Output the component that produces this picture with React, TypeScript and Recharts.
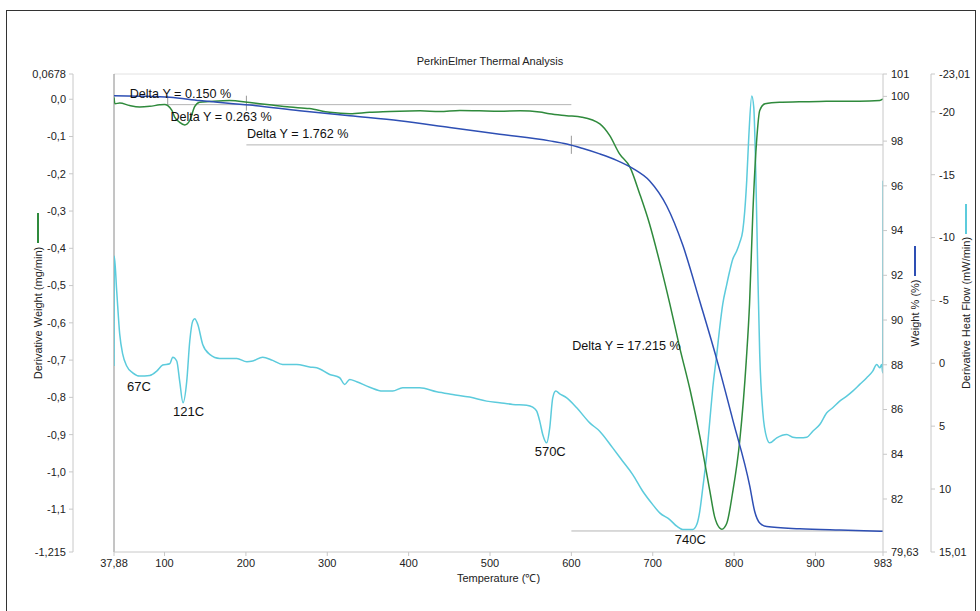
import React from "react";
import { LineChart, Line, XAxis, YAxis, ReferenceLine, ReferenceDot } from "recharts";

const FONT = '"Liberation Sans", Arial, Helvetica, sans-serif';
const GREEN = "#2f8a3c";
const BLUE = "#2e4fb4";
const CYAN = "#5ccbdc";
const AXIS = "#c8c8c8";
const TEXT = "#222";

// axis ids: l1/r1 sit next to the plot, l2/r2 outside them
const DW = "l2"; // derivative weight
const GAP = "l1"; // empty spacer between left axis and plot
const WT = "r1"; // weight %
const HF = "r2"; // derivative heat flow

// derivative weight (mg/min), green, left axis
const dwTemp = [37.88, 39, 45, 57, 69.5, 82, 94, 100, 104, 109, 112.5, 118.6, 124.8, 131, 137, 143, 155, 180, 205, 229, 254, 278, 303, 328, 352, 377, 389, 414, 438, 463, 487, 512, 537, 561, 573, 594, 613, 635, 647, 659, 672, 684, 696, 709, 721, 733, 746, 758, 770, 776, 782, 785, 791, 798, 807, 815, 819, 823, 828, 831.5, 838, 856, 880, 905, 930, 954, 979, 983];
const dwValue = [0.005, -0.012, -0.01, -0.017, -0.021, -0.019, -0.015, -0.014, -0.017, -0.03, -0.048, -0.062, -0.069, -0.057, -0.02, -0.008, -0.006, -0.003, -0.009, -0.015, -0.021, -0.025, -0.035, -0.039, -0.035, -0.033, -0.032, -0.031, -0.033, -0.03, -0.031, -0.032, -0.031, -0.034, -0.039, -0.044, -0.048, -0.066, -0.097, -0.146, -0.182, -0.254, -0.334, -0.441, -0.549, -0.665, -0.781, -0.906, -1.049, -1.12, -1.15, -1.154, -1.138, -1.058, -0.915, -0.7, -0.548, -0.307, -0.102, -0.03, -0.012, -0.008, -0.007, -0.006, -0.005, -0.005, -0.003, 0.001];

// weight %, blue, first right axis
const wtTemp = [37.88, 69.5, 106.4, 143.2, 204.7, 266.2, 327.6, 389, 450.5, 511.9, 573.4, 594.3, 613.3, 634.8, 655.7, 675.4, 696.3, 717.2, 736.9, 757.8, 778.7, 798.3, 819.2, 825.4, 831.5, 840.1, 880.7, 929.8, 983];
const wtValue = [100.03, 100.01, 99.96, 99.81, 99.61, 99.36, 99.13, 98.91, 98.61, 98.31, 98.01, 97.87, 97.68, 97.43, 97.14, 96.78, 96.22, 95.1, 93.35, 90.84, 88.24, 85.55, 82.59, 81.43, 80.93, 80.77, 80.67, 80.61, 80.56];

// derivative heat flow (mW/min), cyan, second right axis (reversed)
const hfTemp = [37.88, 38.2, 41.2, 44.9, 48.6, 53.5, 60.9, 69.5, 81.8, 90.4, 97.7, 106.4, 110.1, 115, 118.6, 122.7, 127.3, 131, 134.7, 137.1, 140.8, 146.9, 155.5, 167.8, 188.8, 201.1, 208.4, 220.6, 232.9, 245.2, 262.4, 278.4, 287, 303, 315.3, 321.4, 327.6, 336.2, 352.1, 368.1, 380.4, 392.7, 413.6, 434.5, 454.1, 475, 495.9, 511.9, 527.9, 545.1, 552.5, 557.4, 561.1, 564.8, 569.7, 573.4, 577.1, 580.8, 585.7, 594.3, 606.6, 622.6, 634.8, 650.8, 663.1, 675.4, 687.7, 700, 708.6, 720.9, 729.5, 736.9, 749.2, 754.1, 757.8, 761.5, 766.4, 770.1, 773.8, 778.7, 782.3, 786, 791, 794.6, 798.3, 803.2, 806.9, 810.6, 813.1, 815.5, 818, 821.7, 824.2, 826.6, 829.1, 831.5, 835.2, 840.1, 843.8, 852.4, 864.7, 872.1, 880.7, 889.3, 896.7, 905.3, 913.9, 921.2, 929.8, 938.4, 945.8, 954.4, 963, 970.4, 975.3, 979, 981.4, 982.7, 983];
const hfValue = [0.22, -8.54, -5.75, -2.32, -0.73, 0.22, 0.76, 1.02, 0.97, 0.62, 0.14, 0.04, -0.49, -0.18, 1.42, 3.14, 1.42, -1.77, -3.36, -3.54, -3.1, -1.5, -0.71, -0.39, -0.39, -0.12, -0.18, -0.49, -0.23, 0.09, 0.09, 0.3, 0.36, 0.89, 1.15, 1.68, 1.28, 1.47, 1.9, 2.21, 2.21, 1.95, 1.95, 2.27, 2.48, 2.69, 3.01, 3.14, 3.27, 3.33, 3.49, 3.81, 4.6, 5.66, 6.33, 5.14, 2.75, 2.21, 2.43, 2.75, 3.54, 4.74, 5.4, 6.73, 7.79, 8.85, 10.18, 11.24, 11.9, 12.43, 12.96, 13.22, 13.22, 12.83, 11.77, 9.91, 7.25, 4.6, 1.95, -0.71, -2.83, -4.69, -6.28, -7.34, -8.27, -8.93, -9.6, -10.53, -12.12, -14.51, -17.95, -21.27, -20.34, -15.3, -7.34, -0.71, 3.81, 5.93, 6.33, 5.93, 5.66, 5.88, 5.93, 5.88, 5.4, 4.87, 3.94, 3.54, 3.01, 2.61, 2.21, 1.68, 1.15, 0.62, 0.09, 0.36, 0.09, 0.76, -14.51];

// ticks
const tempTicks = [37.88, 100, 200, 300, 400, 500, 600, 700, 800, 900, 983];
const tempTickLabels = ["37,88", "100", "200", "300", "400", "500", "600", "700", "800", "900", "983"];
const dwTicks = [0.0678, 0, -0.1, -0.2, -0.3, -0.4, -0.5, -0.6, -0.7, -0.8, -0.9, -1.0, -1.1, -1.215];
const dwTickLabels = ["0,0678", "0,0", "-0,1", "-0,2", "-0,3", "-0,4", "-0,5", "-0,6", "-0,7", "-0,8", "-0,9", "-1,0", "-1,1", "-1,215"];
const wtTicks = [79.63, 82, 84, 86, 88, 90, 92, 94, 96, 98, 100, 101];
const wtTickLabels = ["79,63", "82", "84", "86", "88", "90", "92", "94", "96", "98", "100", "101"];
const hfTicks = [-23.01, -20, -15, -10, -5, 0, 5, 10, 15.01];
const hfTickLabels = ["-23,01", "-20", "-15", "-10", "-5", "0", "5", "10", "15,01"];

// annotations
const deltaLabels = ["Delta Y = 0.150 %", "Delta Y = 0.263 %", "Delta Y = 1.762 %", "Delta Y = 17.215 %"];
const deltaTemp = [57.2, 107.2, 201.3, 601];
const deltaWeight = [100.13, 99.1, 98.36, 88.87];
const peakLabels = ["67C", "121C", "570C", "740C"];
const peakTemp = [53.9, 110.4, 554.9, 727];
const peakFlow = [1.87, 3.86, 6.99, 14.02];

// delta Y marker lines (temperature, weight %)
const deltaSegments = [
  [[103.9, 99.63], [600, 99.63]],
  [[200.6, 97.83], [983, 97.83]],
  [[600, 80.57], [983, 80.57]],
];
const deltaTicks = [
  [[103.9, 100.03], [103.9, 99.58]],
  [[200.6, 100.03], [200.6, 99.36]],
  [[600, 98.24], [600, 97.43]],
];

const zip = (xs: number[], ys: number[]) => xs.map((t, i) => ({ t, v: ys[i] }));
const dwData = zip(dwTemp, dwValue);
const wtData = zip(wtTemp, wtValue);
const hfData = zip(hfTemp, hfValue);

const tickStyle = { fill: TEXT, fontSize: 11, fontFamily: FONT };

function axisTitle(text: string, color: string, dx: number, half: number) {
  return (props: any) => {
    const vb = props.viewBox;
    const cx = vb.x + dx;
    const cy = vb.y + vb.height / 2;
    return (
      <g>
        <line x1={cx} x2={cx} y1={cy - half - 33} y2={cy - half - 3} stroke={color} strokeWidth={2} />
        <text
          x={cx}
          y={cy}
          transform={`rotate(-90 ${cx} ${cy})`}
          textAnchor="middle"
          dominantBaseline="central"
          fontSize={11}
          fill={TEXT}
          fontFamily={FONT}
        >
          {text}
        </text>
      </g>
    );
  };
}

const xTitle = (props: any) => {
  const vb = props.viewBox;
  return (
    <text x={vb.x + vb.width / 2} y={vb.y + 26} textAnchor="middle" dominantBaseline="central" fontSize={11} fill={TEXT} fontFamily={FONT}>
      Temperature (℃)
    </text>
  );
};

export default function App() {
  return (
    <div style={{ position: "absolute", left: 0, top: 0, width: 980, height: 611, overflow: "hidden", background: "#fff" }}>
      <div
        style={{
          position: "absolute",
          left: 6,
          top: 10,
          width: 968,
          height: 620,
          border: "1px solid #333",
        }}
      />
      <div
        style={{
          position: "absolute",
          left: 0,
          top: 55,
          width: 980,
          textAlign: "center",
          fontFamily: FONT,
          fontSize: 11,
          lineHeight: "12px",
          color: TEXT,
        }}
      >
        PerkinElmer Thermal Analysis
      </div>
      <div style={{ position: "absolute", left: 0, top: 0 }}>
        <LineChart width={980} height={611} margin={{ top: 74, right: 9, bottom: 29, left: 13 }}>
          <XAxis
            dataKey="t"
            type="number"
            domain={[37.88, 983]}
            allowDataOverflow
            ticks={tempTicks}
            interval={0}
            tickFormatter={(_v: number, i: number) => tempTickLabels[i]}
            height={30}
            tickSize={4}
            tickMargin={3}
            stroke={AXIS}
            tick={tickStyle}
            label={xTitle}
          />
          <YAxis
            yAxisId={DW}
            orientation="left"
            width={60}
            type="number"
            domain={[-1.215, 0.0678]}
            allowDataOverflow
            ticks={dwTicks}
            interval={0}
            tickFormatter={(_v: number, i: number) => dwTickLabels[i]}
            tickSize={4}
            tickMargin={3}
            stroke={AXIS}
            tick={tickStyle}
            label={axisTitle("Derivative Weight (mg/min)", GREEN, 25, 67)}
          />
          <YAxis yAxisId={GAP} orientation="left" width={41} domain={[0, 1]} axisLine={false} tickLine={false} tick={false} />
          <YAxis
            yAxisId={HF}
            orientation="right"
            width={40}
            type="number"
            domain={[-23.01, 15.01]}
            reversed
            allowDataOverflow
            ticks={hfTicks}
            interval={0}
            tickFormatter={(_v: number, i: number) => hfTickLabels[i]}
            tickSize={4}
            tickMargin={4}
            stroke={AXIS}
            tick={tickStyle}
            label={axisTitle("Derivative Heat Flow (mW/min)", CYAN, 35, 76)}
          />
          <YAxis
            yAxisId={WT}
            orientation="right"
            width={48}
            type="number"
            domain={[79.63, 101]}
            allowDataOverflow
            ticks={wtTicks}
            interval={0}
            tickFormatter={(_v: number, i: number) => wtTickLabels[i]}
            tickSize={4}
            tickMargin={4}
            stroke={AXIS}
            tick={tickStyle}
            label={axisTitle("Weight % (%)", BLUE, 32, 34)}
          />

          <ReferenceLine yAxisId={DW} y={0.0678} stroke="#e2e2e2" />
          <ReferenceLine yAxisId={DW} x={37.88} stroke="#8a8a8a" />
          {deltaSegments.map((s, i) => (
            <ReferenceLine
              key={`seg-${i}`}
              yAxisId={WT}
              segment={[{ x: s[0][0], y: s[0][1] }, { x: s[1][0], y: s[1][1] }]}
              stroke="#b4b4b4"
            />
          ))}
          {deltaTicks.map((s, i) => (
            <ReferenceLine
              key={`tick-${i}`}
              yAxisId={WT}
              segment={[{ x: s[0][0], y: s[0][1] }, { x: s[1][0], y: s[1][1] }]}
              stroke="#999"
            />
          ))}

          <Line data={hfData} dataKey="v" yAxisId={HF} type="monotone" stroke={CYAN} strokeWidth={1.5} dot={false} isAnimationActive={false} />
          <Line data={dwData} dataKey="v" yAxisId={DW} type="monotone" stroke={GREEN} strokeWidth={1.5} dot={false} isAnimationActive={false} />
          <Line data={wtData} dataKey="v" yAxisId={WT} type="monotone" stroke={BLUE} strokeWidth={1.5} dot={false} isAnimationActive={false} />

          {deltaLabels.map((text, i) => (
            <ReferenceDot
              key={`dl-${i}`}
              yAxisId={WT}
              x={deltaTemp[i]}
              y={deltaWeight[i]}
              r={0}
              fill="none"
              stroke="none"
              label={{ value: text, position: "right", offset: 0, fontSize: 12.6, fill: "#111", fontFamily: FONT }}
            />
          ))}
          {peakLabels.map((text, i) => (
            <ReferenceDot
              key={`pl-${i}`}
              yAxisId={HF}
              x={peakTemp[i]}
              y={peakFlow[i]}
              r={0}
              fill="none"
              stroke="none"
              label={{ value: text, position: "right", offset: 0, fontSize: 13, fill: "#111", fontFamily: FONT }}
            />
          ))}
        </LineChart>
      </div>
    </div>
  );
}
